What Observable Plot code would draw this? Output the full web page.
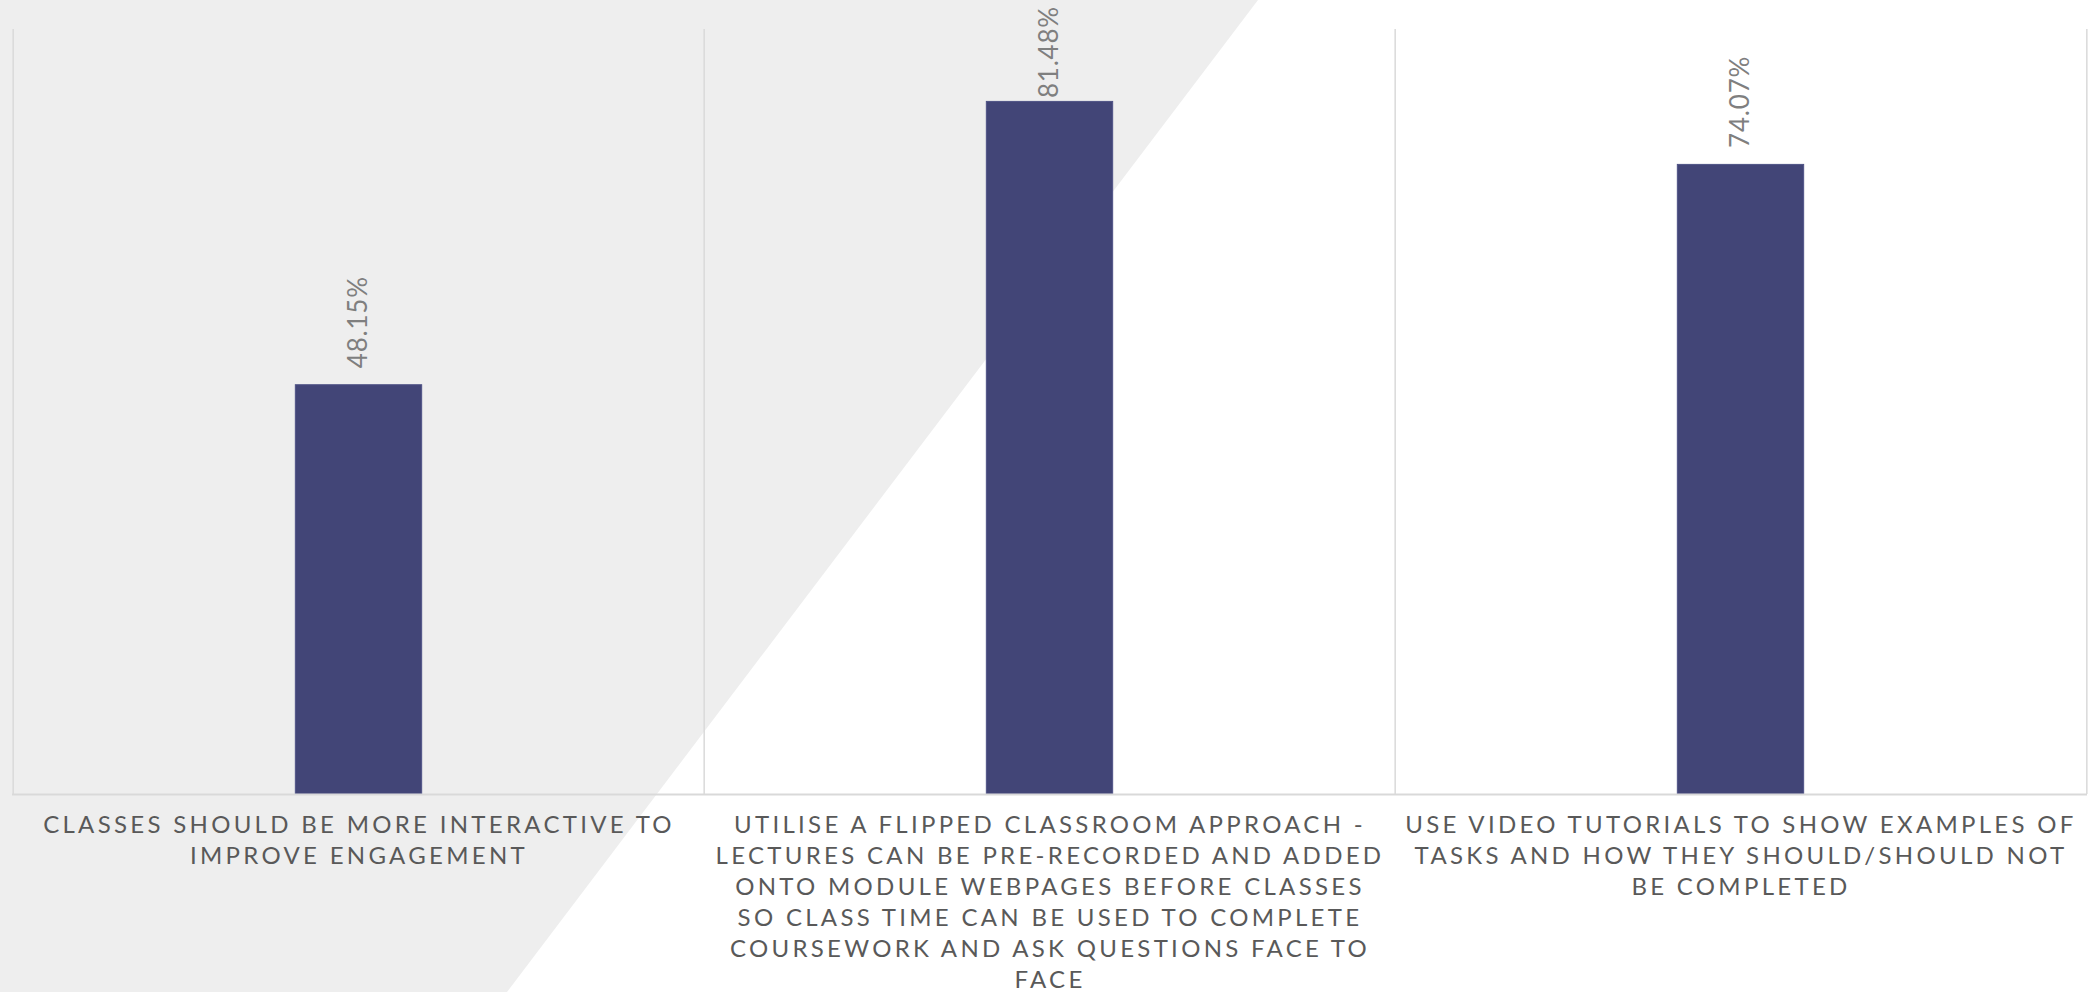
<!DOCTYPE html>
<html>
<head>
<meta charset="utf-8">
<script src="https://cdn.jsdelivr.net/npm/d3@7"></script>
<script src="https://cdn.jsdelivr.net/npm/@observablehq/plot@0.6"></script>
<style>
  html, body { margin: 0; padding: 0; background: #ffffff; overflow: hidden; }
  #wrap { position: relative; width: 2088px; height: 992px; }
  #bgshape { position: absolute; left: 0; top: 0; width: 2088px; height: 992px; background: #EEEEEE;
    clip-path: polygon(0 0, 1258px 0, 507px 992px, 0 992px); }
  #chart { position: absolute; left: 0; top: 0; }
</style>
</head>
<body>
<div id="wrap"><div id="bgshape"></div><div id="chart"></div></div>
<script>
const categories = [
  "CLASSES SHOULD BE MORE INTERACTIVE TO IMPROVE ENGAGEMENT",
  "UTILISE A FLIPPED CLASSROOM APPROACH - LECTURES CAN BE PRE-RECORDED AND ADDED ONTO MODULE WEBPAGES BEFORE CLASSES SO CLASS TIME CAN BE USED TO COMPLETE COURSEWORK AND ASK QUESTIONS FACE TO FACE",
  "USE VIDEO TUTORIALS TO SHOW EXAMPLES OF TASKS AND HOW THEY SHOULD/SHOULD NOT BE COMPLETED"
];
const values = [48.15, 81.48, 74.07];
const tickLabels = [
  "CLASSES SHOULD BE MORE INTERACTIVE TO\nIMPROVE ENGAGEMENT",
  "UTILISE A FLIPPED CLASSROOM APPROACH -\nLECTURES CAN BE PRE-RECORDED AND ADDED\nONTO MODULE WEBPAGES BEFORE CLASSES\nSO CLASS TIME CAN BE USED TO COMPLETE\nCOURSEWORK AND ASK QUESTIONS FACE TO\nFACE",
  "USE VIDEO TUTORIALS TO SHOW EXAMPLES OF\nTASKS AND HOW THEY SHOULD/SHOULD NOT\nBE COMPLETED"
];

const data = categories.map((c, i) => ({category: c, value: values[i], label: tickLabels[i]}));

const W = 2088, H = 992;
const mL = 12, mR = 1, mT = 29, mB = 198;
const step = (W - mL - mR) / categories.length;
const barWidth = 127;
const inset = (step - barWidth) / 2;
const font = "Lato, 'Noto Sans', sans-serif";

const chart = Plot.plot({
  width: W,
  height: H,
  marginLeft: mL,
  marginRight: mR,
  marginTop: mT,
  marginBottom: mB,
  style: {background: "transparent", fontFamily: font, overflow: "visible"},
  x: {domain: categories, padding: 0, axis: null},
  y: {domain: [0, 90], axis: null},
  marks: [
    Plot.ruleX(categories, {x: d => d, dx: -step / 2, stroke: "#D9D9D9", strokeWidth: 1.5}),
    Plot.ruleX([categories[categories.length - 1]], {x: d => d, dx: step / 2, stroke: "#D9D9D9", strokeWidth: 1.5}),
    Plot.barY(data, {x: "category", y: "value", fill: "#424577", stroke: "#4F5386", strokeWidth: 1, insetLeft: inset, insetRight: inset}),
    Plot.ruleY([0], {stroke: "#D9D9D9", strokeWidth: 2}),
    Plot.text(data, {x: "category", y: "value", text: d => d.value.toFixed(2) + "%", rotate: -90, textAnchor: "start", dy: -17, fontSize: 26, fill: "#7F7F7F"}),
    Plot.text(data, {x: "category", y: 0, text: "label", lineAnchor: "top", dy: 17, fontSize: 24, lineHeight: 1.29, fill: "#595959"})
  ]
});
document.getElementById("chart").appendChild(chart);

// text styling (letter spacing) applied after render
const textGroups = chart.querySelectorAll('g[aria-label="text"]');
const valueGroup = textGroups[0], catGroup = textGroups[1];
catGroup.querySelectorAll("text").forEach(t => t.style.letterSpacing = "3.3px");
valueGroup.querySelectorAll("text").forEach(t => t.style.letterSpacing = "0.8px");

// like the spreadsheet, keep a value label inside the chart area when it would overflow the top
const topLimit = chart.getBoundingClientRect().top + 6;
valueGroup.querySelectorAll("text").forEach(t => {
  const r = t.getBoundingClientRect();
  if (r.top < topLimit) {
    const shift = topLimit - r.top;
    const tr = t.getAttribute("transform") || "";
    t.setAttribute("transform", `translate(0,${shift}) ` + tr);
  }
});
</script>
</body>
</html>
